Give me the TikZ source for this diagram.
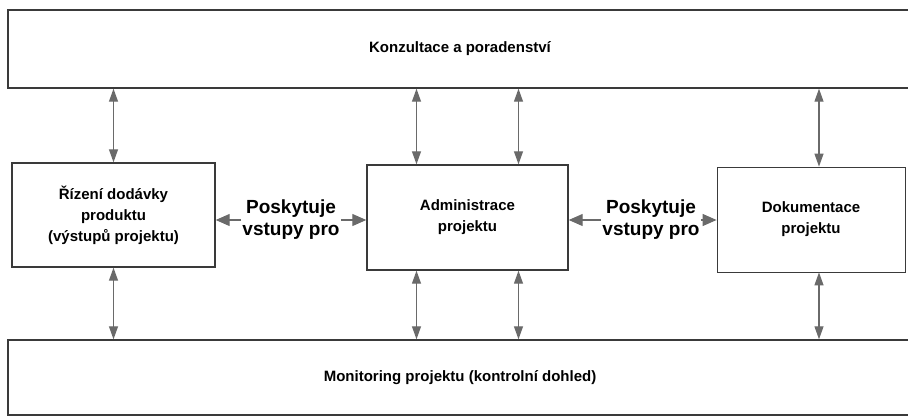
\documentclass[tikz,border=0pt]{standalone}
\usepackage{fontspec}
\setmainfont{Liberation Sans}
\usetikzlibrary{arrows.meta}
\definecolor{boxline}{HTML}{3A3A3A}
\definecolor{arrgray}{HTML}{6A6A6A}
\tikzset{
  box/.style={draw=boxline, line width=1.4pt, rectangle, align=center, inner sep=2pt,
    font=\fontsize{15}{21}\selectfont\bfseries},
  lbl/.style={align=center, inner sep=1pt, font=\fontsize{19}{22}\selectfont\bfseries},
  dbl/.style={draw=arrgray, line width=1.2pt, {Triangle[length=13pt,width=9pt]}-{Triangle[length=13pt,width=9pt]}},
  sgl/.style={draw=arrgray, line width=1.2pt, -{Triangle[length=14pt,width=12pt]}}
}
\begin{document}
\begin{tikzpicture}[x=1pt,y=-1pt]
\useasboundingbox (0,0) rectangle (908,418);
\clip (0,0) rectangle (908,418);
\node[box, minimum width=904pt, minimum height=78pt] (top) at (460,49) {Konzultace a poradenství};
\node[box, minimum width=904pt, minimum height=75pt] (bot) at (460,377.5) {Monitoring projektu (kontrolní dohled)};
\node[box, minimum width=203pt, minimum height=104pt] (left) at (113.5,215) {Řízení dodávky\\produktu\\(výstupů projektu)};
\node[box, minimum width=201pt, minimum height=105pt] (mid) at (467.5,217.5) {Administrace\\projektu};
\node[box, line width=0.8pt, minimum width=188pt, minimum height=105pt] (right) at (811,219.5) {Dokumentace\\projektu};
\node[lbl] (l1) at (291,220) {Poskytuje\\vstupy pro};
\node[lbl] (l2) at (651,220) {Poskytuje\\vstupy pro};
% horizontal arrows
\draw[sgl] (l1.west) -- (left.east |- l1.west);
\draw[sgl] (l1.east) -- (mid.west |- l1.east);
\draw[sgl] (l2.west) -- (mid.east |- l2.west);
\draw[sgl] (l2.east) -- (right.west |- l2.east);
% vertical arrows top
\draw[dbl] (left.north) -- (left.north |- top.south);
\draw[dbl] ([xshift=-51pt]mid.north) -- ([xshift=-51pt]mid.north |- top.south);
\draw[dbl] ([xshift=51pt]mid.north) -- ([xshift=51pt]mid.north |- top.south);
\draw[dbl] ([xshift=8pt]right.north) -- ([xshift=8pt]right.north |- top.south);
% vertical arrows bottom
\draw[dbl] (left.south) -- (left.south |- bot.north);
\draw[dbl] ([xshift=-51pt]mid.south) -- ([xshift=-51pt]mid.south |- bot.north);
\draw[dbl] ([xshift=51pt]mid.south) -- ([xshift=51pt]mid.south |- bot.north);
\draw[dbl] ([xshift=8pt]right.south) -- ([xshift=8pt]right.south |- bot.north);
\end{tikzpicture}
\end{document}
